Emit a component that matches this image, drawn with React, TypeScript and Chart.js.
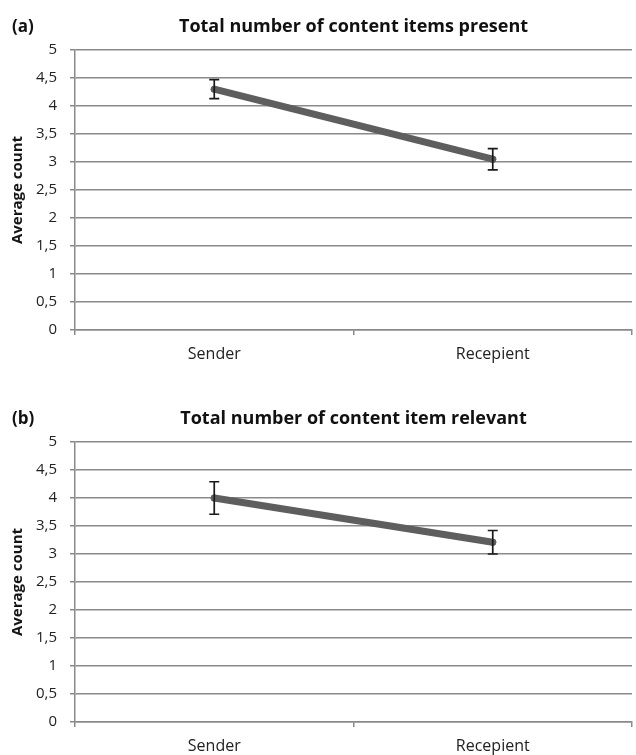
import React, { useEffect, useRef } from 'react';
import { Chart, registerables } from 'chart.js';

Chart.register(...registerables);

const categories = ['Sender', 'Recepient'];
const presentMeans = [4.3, 3.05];
const presentErrors = [0.17, 0.19];
const relevantMeans = [4.0, 3.21];
const relevantErrors = [0.29, 0.21];
const panelLabels = ['(a)', '(b)'];
const panelTitles = ['Total number of content items present', 'Total number of content item relevant'];
const yAxisTitle = 'Average count';
const yMin = 0;
const yMax = 5;
const yStep = 0.5;

const FONT = '"Open Sans", Lato, sans-serif';
const GRID = '#8a8a8a';
const TEXT = '#222';
const LINE = '#5e5e5e';

const errorBarPlugin = {
  id: 'errorBars',
  afterDatasetsDraw(chart: any) {
    const ctx = chart.ctx;
    const xs = chart.scales.x;
    const ys = chart.scales.y;
    chart.data.datasets.forEach((ds: any) => {
      const errs: number[] = ds.errors;
      if (!errs) return;
      ds.data.forEach((v: number, i: number) => {
        const px = xs.getPixelForValue(i);
        const top = ys.getPixelForValue(v + errs[i]);
        const bot = ys.getPixelForValue(v - errs[i]);
        ctx.save();
        ctx.strokeStyle = '#1a1a1a';
        ctx.lineWidth = 1.7;
        ctx.beginPath();
        ctx.moveTo(px, top);
        ctx.lineTo(px, bot);
        ctx.moveTo(px - 5, top);
        ctx.lineTo(px + 5, top);
        ctx.moveTo(px - 5, bot);
        ctx.lineTo(px + 5, bot);
        ctx.stroke();
        ctx.restore();
      });
    });
  },
};

const panelTextPlugin = {
  id: 'panelText',
  afterDraw(chart: any, _args: any, opts: any) {
    const ctx = chart.ctx;
    const area = chart.chartArea;
    ctx.save();
    ctx.fillStyle = '#111';
    ctx.textBaseline = 'alphabetic';
    ctx.font = `bold 17px ${FONT}`;
    ctx.textAlign = 'left';
    ctx.fillText(opts.label, 12, 32);
    ctx.font = `bold 18px ${FONT}`;
    ctx.textAlign = 'center';
    ctx.fillText(opts.title, (area.left + area.right) / 2, 32);
    ctx.restore();
  },
};

function makeConfig(means: number[], errors: number[], label: string, title: string, bottomPad: number, xAxisH: number): any {
  return {
    type: 'line',
    data: {
      labels: categories,
      datasets: [
        {
          data: means,
          errors,
          borderColor: LINE,
          backgroundColor: LINE,
          borderWidth: 7,
          pointRadius: 3.5,
          pointBorderWidth: 0,
          pointBackgroundColor: LINE,
          borderCapStyle: 'round',
          tension: 0,
        },
      ],
    },
    options: {
      responsive: false,
      animation: false,
      layout: { padding: { top: 50, left: 0, right: 1, bottom: bottomPad } },
      plugins: {
        legend: { display: false },
        tooltip: { enabled: false },
        title: { display: false },
        panelText: { label, title },
      },
      scales: {
        x: {
          type: 'category',
          offset: true,
          grid: {
            display: true,
            drawOnChartArea: false,
            drawTicks: true,
            tickLength: 5,
            color: GRID,
            lineWidth: 1.5,
            offset: true,
          },
          border: { display: true, color: GRID, width: 1.5 },
          ticks: { font: { family: FONT, size: 16 }, color: TEXT, padding: 10, maxRotation: 0 },
          afterFit: (s: any) => {
            s.height = xAxisH;
          },
        },
        y: {
          min: yMin,
          max: yMax,
          ticks: {
            stepSize: yStep,
            callback: (v: any) => String(v).replace('.', ','),
            font: { family: FONT, size: 15 },
            color: TEXT,
            padding: 13,
          },
          grid: { color: GRID, lineWidth: 1.5, tickLength: 5 },
          border: { color: GRID, width: 1.5 },
          title: {
            display: true,
            text: yAxisTitle,
            font: { family: FONT, size: 15, weight: 'bold' },
            color: '#151515',
            padding: { top: 9, bottom: 0 },
          },
          afterFit: (s: any) => {
            s.width = 75;
          },
        },
      },
    },
    plugins: [errorBarPlugin, panelTextPlugin],
  };
}

function Panel(props: { means: number[]; errors: number[]; label: string; title: string; top: number; height: number; bottomPad: number; xAxisH: number }) {
  const ref = useRef<HTMLCanvasElement | null>(null);
  useEffect(() => {
    if (!ref.current) return;
    const chart = new Chart(ref.current, makeConfig(props.means, props.errors, props.label, props.title, props.bottomPad, props.xAxisH));
    return () => chart.destroy();
  }, []);
  return (
    <canvas
      ref={ref}
      width={636}
      height={props.height}
      style={{ position: 'absolute', left: 0, top: props.top, width: 636, height: props.height, display: 'block' }}
    />
  );
}

export default function App() {
  return (
    <div style={{ position: 'fixed', left: 0, top: 0, width: 636, height: 755, overflow: 'hidden', background: '#fff' }}>
      <Panel means={presentMeans} errors={presentErrors} label={panelLabels[0]} title={panelTitles[0]} top={0} height={392} bottomPad={26} xAxisH={36} />
      <Panel means={relevantMeans} errors={relevantErrors} label={panelLabels[1]} title={panelTitles[1]} top={392} height={363} bottomPad={0} xAxisH={33} />
    </div>
  );
}
